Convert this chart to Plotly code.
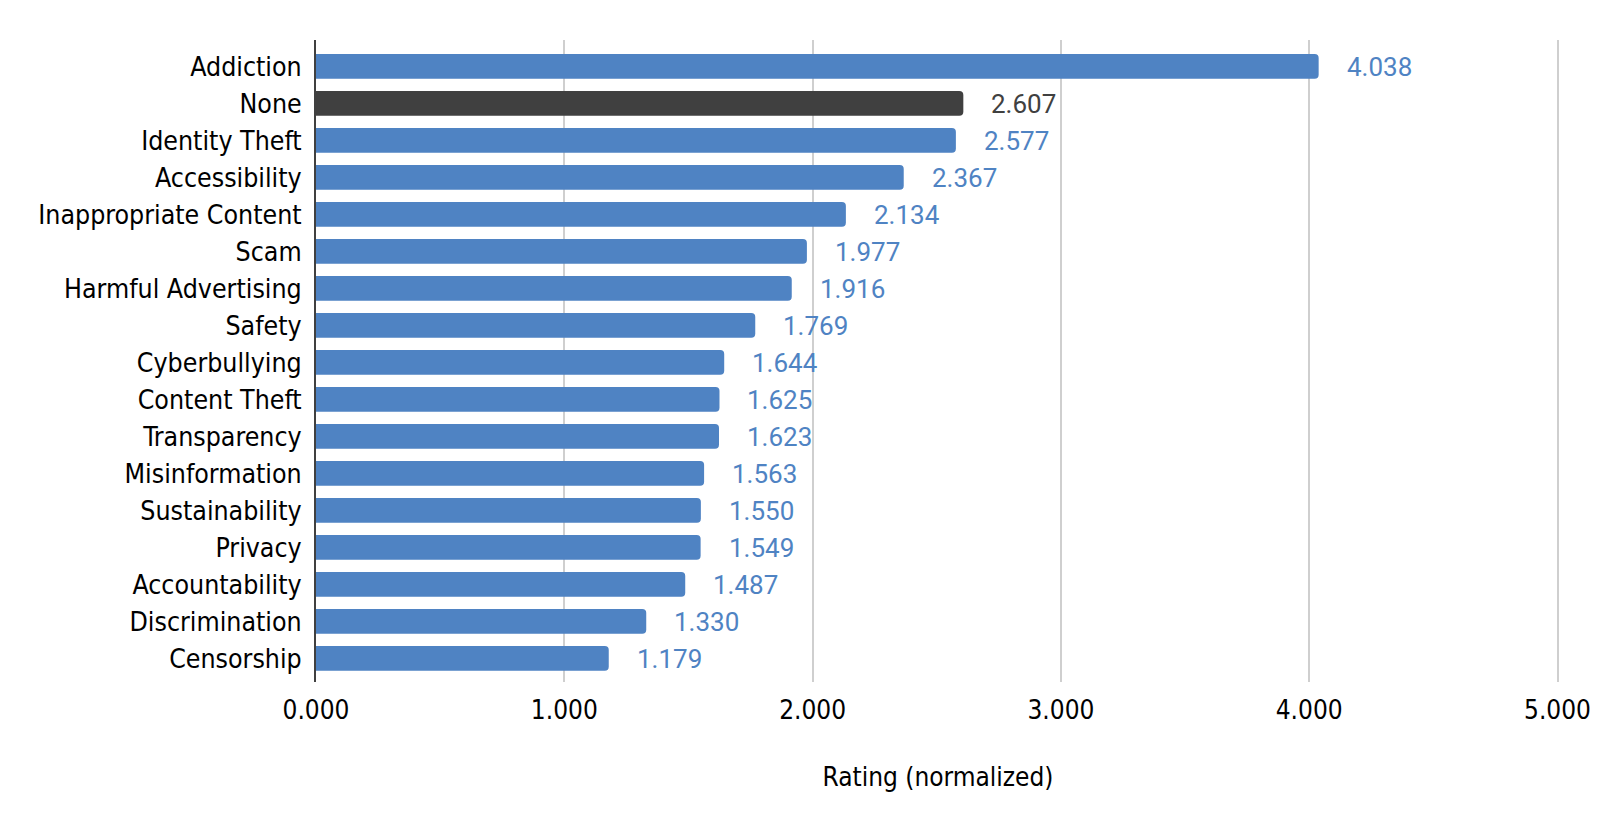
import plotly.graph_objects as go

categories = ["Addiction", "None", "Identity Theft", "Accessibility", "Inappropriate Content",
              "Scam", "Harmful Advertising", "Safety", "Cyberbullying", "Content Theft",
              "Transparency", "Misinformation", "Sustainability", "Privacy", "Accountability",
              "Discrimination", "Censorship"]
values = [4.038, 2.607, 2.577, 2.367, 2.134, 1.977, 1.916, 1.769, 1.644, 1.625,
          1.623, 1.563, 1.550, 1.549, 1.487, 1.330, 1.179]
x_ticks = [0, 1, 2, 3, 4, 5]
x_title = "Rating (normalized)"

BLUE = "#4f83c3"
DARK = "#404040"
colors = [DARK if c == "None" else BLUE for c in categories]

LABEL_FONT = "'DejaVu Sans Condensed', 'Liberation Sans', sans-serif"

fig = go.Figure()
fig.add_trace(go.Bar(
    y=categories, x=values, orientation="h",
    marker=dict(color=colors, cornerradius=4, line=dict(width=0)),
    width=0.67, hoverinfo="x+y",
))

for c, v, col in zip(categories, values, colors):
    fig.add_annotation(x=v, y=c, text=f"{v:.3f}", showarrow=False,
                       xanchor="left", yanchor="middle", xshift=26, yshift=-1,
                       font=dict(family="Roboto", size=26, color=col))

fig.update_layout(
    width=1582, height=814,
    margin=dict(l=308, r=30, t=32, b=140, autoexpand=False),
    paper_bgcolor="white", plot_bgcolor="white",
    showlegend=False,
    font=dict(family=LABEL_FONT, size=26, color="#000000"),
    xaxis=dict(range=[0, 5.01], tickvals=x_ticks, ticktext=[f"{t:.3f}" for t in x_ticks],
               showgrid=True, gridcolor="#cfcfcf", gridwidth=1.5,
               zeroline=False, showline=False, automargin=False,
               ticks="", ticklabelstandoff=10, ticklabeloverflow="allow",
               tickfont=dict(family=LABEL_FONT, size=26, color="#000000"),
               title=dict(text=x_title, standoff=43,
                          font=dict(family=LABEL_FONT, size=26, color="#000000"))),
    yaxis=dict(categoryorder="array", categoryarray=categories,
               range=[16.64, -0.71], showgrid=False, zeroline=False,
               showline=True, linecolor="#404040", linewidth=2, automargin=False,
               ticks="", ticklabelstandoff=7,
               tickfont=dict(family=LABEL_FONT, size=26.5, color="#000000")),
)

fig.write_html("out.html")
